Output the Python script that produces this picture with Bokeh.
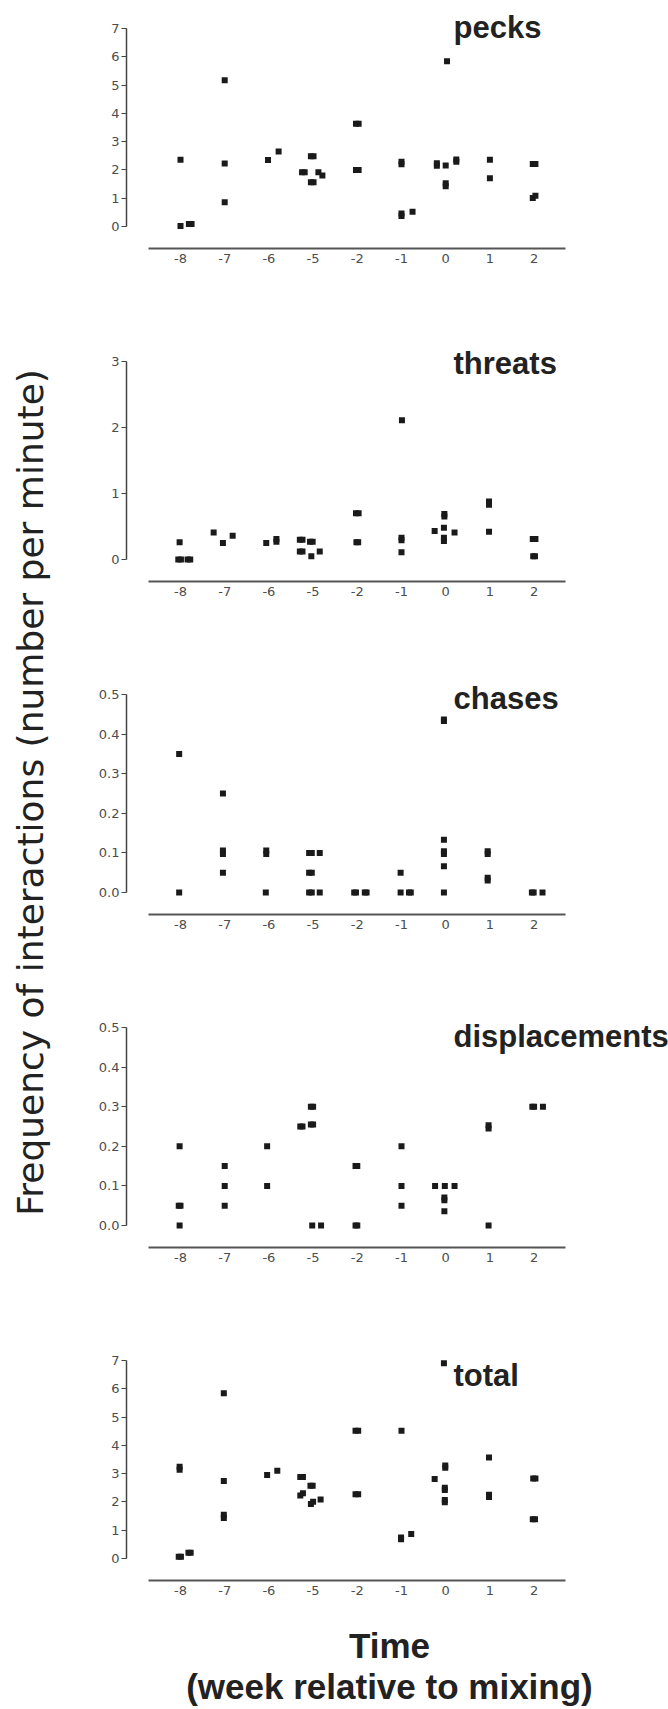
import math
from bokeh.plotting import figure
from bokeh.models import ColumnDataSource, Range1d, FixedTicker, PrintfTickFormatter, Label
from bokeh.layouts import row, column
from bokeh.embed import file_html
from bokeh.resources import INLINE

# ---------------- data ----------------
weeks = ["-8", "-7", "-6", "-5", "-2", "-1", "0", "1", "2"]

pecks_idx = [0, 0, 0, 0, 1, 1, 1, 2, 2, 3, 3, 3, 3, 3, 3, 3, 3, 4, 4, 4, 4,
             5, 5, 5, 5, 5, 6, 6, 6, 6, 6, 6, 6, 6, 7, 7, 8, 8, 8, 8]
pecks_val = [0.02, 0.09, 0.09, 2.36, 5.17, 2.23, 0.86, 2.35, 2.65,
             1.92, 1.92, 2.48, 2.48, 1.56, 1.56, 1.92, 1.80,
             3.63, 3.63, 2.00, 2.00,
             2.20, 2.29, 0.37, 0.46, 0.52,
             2.15, 2.24, 2.16, 2.29, 2.37, 1.42, 1.53, 5.84,
             2.36, 1.71, 2.21, 2.21, 1.01, 1.09]
pecks_jit = [0.0, 0.19, 0.25, 0.0, 0.0, 0.0, 0.0, -0.02, 0.22,
             -0.25, -0.19, -0.05, 0.01, -0.05, 0.01, 0.12, 0.21,
             -0.03, 0.03, -0.03, 0.03,
             0.0, 0.0, 0.0, 0.0, 0.25,
             -0.2, -0.2, 0.0, 0.24, 0.24, 0.0, 0.0, 0.03,
             0.0, 0.0, -0.03, 0.03, -0.03, 0.03]

threats_idx = [0, 0, 0, 0, 0, 1, 1, 1, 2, 2, 2, 3, 3, 3, 3, 3, 3, 3, 3,
               4, 4, 4, 4, 5, 5, 5, 5, 6, 6, 6, 6, 6, 6, 6, 7, 7, 7, 8, 8, 8, 8]
threats_val = [0.26, 0.0, 0.0, 0.0, 0.0, 0.41, 0.25, 0.36, 0.25, 0.27, 0.31,
               0.30, 0.30, 0.12, 0.12, 0.27, 0.27, 0.05, 0.12,
               0.70, 0.70, 0.26, 0.26, 2.11, 0.29, 0.33, 0.11,
               0.43, 0.65, 0.69, 0.48, 0.28, 0.33, 0.41,
               0.83, 0.88, 0.42, 0.31, 0.31, 0.05, 0.05]
threats_jit = [-0.02, -0.05, 0.01, 0.16, 0.22, -0.25, -0.04, 0.18, -0.06, 0.17, 0.17,
               -0.30, -0.24, -0.30, -0.24, -0.07, -0.01, -0.04, 0.15,
               -0.03, 0.03, -0.02, 0.02, 0.01, 0.0, 0.0, 0.0,
               -0.25, -0.03, -0.03, -0.04, -0.04, -0.04, 0.2,
               -0.02, -0.02, -0.02, -0.03, 0.03, -0.02, 0.02]

chases_idx = [0, 0, 1, 1, 1, 1, 2, 2, 2, 3, 3, 3, 3, 3, 3, 3, 3,
              4, 4, 4, 4, 5, 5, 5, 5, 6, 6, 6, 6, 6, 6, 6, 7, 7, 7, 7, 8, 8, 8]
chases_val = [0.35, 0.0, 0.25, 0.097, 0.106, 0.05, 0.097, 0.106, 0.0,
              0.10, 0.10, 0.10, 0.05, 0.05, 0.0, 0.0, 0.0,
              0.0, 0.0, 0.0, 0.0, 0.05, 0.0, 0.0, 0.0,
              0.433, 0.437, 0.133, 0.097, 0.104, 0.066, 0.0,
              0.097, 0.104, 0.030, 0.037, 0.0, 0.0, 0.0]
chases_jit = [-0.03, -0.03, -0.04, -0.04, -0.04, -0.04, -0.06, -0.06, -0.07,
              -0.09, -0.03, 0.15, -0.09, -0.03, -0.09, -0.03, 0.15,
              -0.07, -0.03, 0.17, 0.21, -0.02, -0.02, 0.17, 0.21,
              -0.04, -0.04, -0.04, -0.04, -0.04, -0.04, -0.04,
              -0.05, -0.05, -0.05, -0.05, -0.05, -0.01, 0.19]

displ_idx = [0, 0, 0, 0, 1, 1, 1, 2, 2, 3, 3, 3, 3, 3, 3, 3, 3,
             4, 4, 4, 4, 5, 5, 5, 6, 6, 6, 6, 6, 6, 7, 7, 7, 8, 8, 8]
displ_val = [0.20, 0.05, 0.05, 0.0, 0.15, 0.10, 0.05, 0.20, 0.10,
             0.25, 0.25, 0.30, 0.30, 0.255, 0.255, 0.0, 0.0,
             0.15, 0.15, 0.0, 0.0, 0.20, 0.10, 0.05,
             0.10, 0.10, 0.10, 0.064, 0.071, 0.036,
             0.245, 0.253, 0.0, 0.30, 0.30, 0.30]
displ_jit = [-0.02, -0.04, 0.0, -0.02, 0.0, 0.0, 0.0, -0.04, -0.04,
             -0.29, -0.24, -0.05, 0.0, -0.05, 0.0, -0.02, 0.18,
             -0.04, 0.0, -0.04, 0.0, 0.0, 0.0, 0.0,
             -0.24, -0.02, 0.2, -0.03, -0.03, -0.03,
             -0.03, -0.03, -0.03, -0.04, 0.0, 0.2]

total_idx = [0, 0, 0, 0, 0, 0, 1, 1, 1, 1, 2, 2, 3, 3, 3, 3, 3, 3, 3, 3, 3,
             4, 4, 4, 4, 5, 5, 5, 5, 6, 6, 6, 6, 6, 6, 6, 6, 7, 7, 7, 8, 8, 8, 8]
total_val = [3.14, 3.24, 0.06, 0.06, 0.20, 0.20, 5.84, 2.74, 1.43, 1.55, 2.95, 3.10,
             2.88, 2.88, 2.23, 2.31, 2.57, 2.57, 1.93, 2.01, 2.09,
             4.52, 4.52, 2.27, 2.27, 4.52, 0.68, 0.74, 0.87,
             6.90, 2.81, 3.21, 3.29, 2.42, 2.50, 1.99, 2.07,
             3.57, 2.17, 2.25, 2.83, 2.83, 1.39, 1.39]
total_jit = [-0.02, -0.02, -0.04, 0.01, 0.18, 0.23, -0.02, -0.02, -0.02, -0.02, -0.04, 0.19,
             -0.29, -0.23, -0.29, -0.23, -0.06, -0.01, -0.05, 0.0, 0.17,
             -0.04, 0.02, -0.04, 0.02, 0.0, -0.01, -0.01, 0.22,
             -0.04, -0.25, -0.01, -0.01, -0.02, -0.02, -0.02, -0.02,
             -0.02, -0.02, -0.02, -0.02, 0.03, -0.03, 0.02]

int_ticks_7 = [0, 1, 2, 3, 4, 5, 6, 7]
int_ticks_3 = [0, 1, 2, 3]
dec_ticks = [0.0, 0.1, 0.2, 0.3, 0.4, 0.5]

# ---------------- layout geometry (pixels) ----------------
COL_W = 608            # width of the panel column
LEFT_W = 60            # width of the y-label strip
AX_X = 126             # page x of the y-axis line
CAT0 = 180.0           # page x of first category
CAT_STEP = 44.2        # px between categories
TICK_TOP, ZERO, AXIS = 28, 226, 248

def px_to_cat(px):
    return (px - CAT0) / CAT_STEP

XL = px_to_cat(AX_X)
XR = px_to_cat(LEFT_W + COL_W)
XB = (px_to_cat(148), px_to_cat(565))

INK = "#1a1a1a"

def panel(idx, val, jit, vmax, ticks, fmt, title, title_px, height):
    unit = (ZERO - TICK_TOP) / vmax
    y0 = -(AXIS - ZERO) / unit
    y1 = vmax + TICK_TOP / unit
    p = figure(width=COL_W, height=height, x_range=Range1d(XL, XR), y_range=Range1d(y0, y1),
               output_backend="svg", toolbar_location=None,
               min_border_left=AX_X - LEFT_W, min_border_right=0, min_border_top=0,
               min_border_bottom=height - AXIS)
    p.outline_line_color = None
    p.xgrid.visible = False
    p.ygrid.visible = False
    p.background_fill_color = "white"
    p.border_fill_color = "white"

    src = ColumnDataSource(dict(x=[i + j for i, j in zip(idx, jit)], y=val))
    p.scatter(x="x", y="y", source=src, marker="square", size=6,
              fill_color=INK, line_color=None)

    xa = p.xaxis[0]
    xa.ticker = FixedTicker(ticks=list(range(len(weeks))))
    xa.major_label_overrides = {i: w for i, w in enumerate(weeks)}
    xa.bounds = XB
    xa.axis_line_width = 2
    xa.axis_line_color = "#555555"
    xa.major_tick_line_color = None
    xa.major_tick_out = 0
    xa.major_tick_in = 0
    xa.minor_tick_line_color = None
    xa.major_label_standoff = 5
    xa.major_label_text_font = "DejaVu Sans"
    xa.major_label_text_font_size = "13px"
    xa.major_label_text_color = "#4d4d4d"

    ya = p.yaxis[0]
    ya.ticker = FixedTicker(ticks=ticks)
    if fmt:
        ya.formatter = PrintfTickFormatter(format=fmt)
    ya.bounds = (0, vmax)
    ya.axis_line_width = 1.5
    ya.axis_line_color = "#444444"
    ya.major_tick_out = 5
    ya.major_tick_in = 0
    ya.major_tick_line_width = 1.2
    ya.major_tick_line_color = "#444444"
    ya.minor_tick_line_color = None
    ya.major_label_standoff = 2
    ya.major_label_text_font = "DejaVu Sans"
    ya.major_label_text_font_size = "13px"
    ya.major_label_text_color = "#4d4d4d"

    # panel title, baseline given in px below the panel's top
    p.add_layout(Label(x=px_to_cat(453), y=(ZERO - title_px) / unit, text=title,
                       text_font="Liberation Sans", text_font_style="bold",
                       text_font_size="31px", text_color="#222222",
                       text_align="left", text_baseline="alphabetic"))
    return p

p1 = panel(pecks_idx, pecks_val, pecks_jit, 7, int_ticks_7, None, "pecks", 27, 333)
p2 = panel(threats_idx, threats_val, threats_jit, 3, int_ticks_3, None, "threats", 30, 333)
p3 = panel(chases_idx, chases_val, chases_jit, 0.5, dec_ticks, "%.1f", "chases", 32, 333)
p4 = panel(displ_idx, displ_val, displ_jit, 0.5, dec_ticks, "%.1f", "displacements", 37, 333)
p5 = panel(total_idx, total_val, total_jit, 7, int_ticks_7, None, "total", 43, 268)

TOTAL_H = 1709
XL_H = TOTAL_H - (333 * 4 + 268)

# y-axis label strip
yl = figure(width=LEFT_W, height=TOTAL_H, x_range=Range1d(0, LEFT_W), y_range=Range1d(0, TOTAL_H),
            output_backend="svg", toolbar_location=None, x_axis_type=None, y_axis_type=None,
            min_border=0)
yl.outline_line_color = None
yl.xgrid.visible = False
yl.ygrid.visible = False
yl.add_layout(Label(x=30, y=TOTAL_H - 792, text="Frequency of interactions (number per minute)",
                    angle=math.pi / 2, text_font="DejaVu Sans", text_font_size="36px",
                    text_color="#222222", text_align="center", text_baseline="middle"))

# x-axis label strip
xl = figure(width=COL_W, height=XL_H, x_range=Range1d(0, COL_W), y_range=Range1d(0, XL_H),
            output_backend="svg", toolbar_location=None, x_axis_type=None, y_axis_type=None,
            min_border=0)
xl.outline_line_color = None
xl.xgrid.visible = False
xl.ygrid.visible = False
xl.add_layout(Label(x=355 - LEFT_W, y=TOTAL_H - 1645, text="Time", text_font="Liberation Sans",
                    text_font_style="bold", text_font_size="35px", text_color="#222222",
                    text_align="center", text_baseline="alphabetic"))
xl.add_layout(Label(x=355 - LEFT_W, y=TOTAL_H - 1686, text="(week relative to mixing)",
                    text_font="Liberation Sans", text_font_style="bold", text_font_size="35px",
                    text_color="#222222", text_align="center", text_baseline="alphabetic"))

layout = row(yl, column(p1, p2, p3, p4, p5, xl))

open("out.html", "w").write(file_html(layout, INLINE))
